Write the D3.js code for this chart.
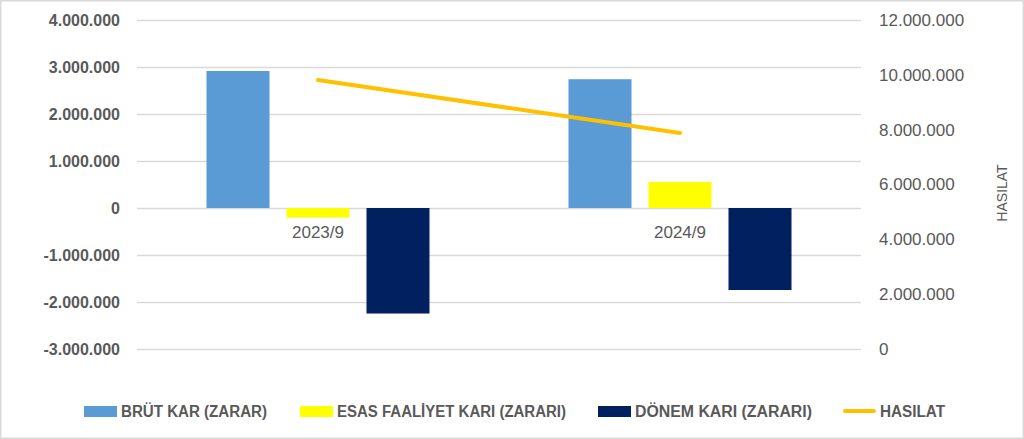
<!DOCTYPE html>
<html>
<head>
<meta charset="utf-8">
<script src="https://cdn.jsdelivr.net/npm/d3@7"></script>
<style>
  html, body { margin: 0; padding: 0; background: #fff; }
  text { font-family: "Liberation Sans", Arial, sans-serif; fill: #595959; }
</style>
</head>
<body>
<div id="chart"></div>
<script>
// data
const periods = ["2023/9", "2024/9"]
const brutKar = [2915000, 2740000]
const esasFaaliyet = [-205000, 553000]
const donemKari = [-2245000, -1745000]
const hasilat = [9810000, 7880000]

const barSeries = [
    { name: "BRÜT KAR (ZARAR)", values: brutKar, color: "#5b9bd5" },
    { name: "ESAS FAALİYET KARI (ZARARI)", values: esasFaaliyet, color: "#ffff00" },
    { name: "DÖNEM KARI (ZARARI)", values: donemKari, color: "#002060" },
]
const leftTicks = [-3000000, -2000000, -1000000, 0, 1000000, 2000000, 3000000, 4000000]
const rightTicks = [0, 2000000, 4000000, 6000000, 8000000, 10000000, 12000000]

function drawChart() {
    const width = 1024
    const height = 439
    const margin = { top: 20, bottom: 90, left: 137, right: 163 }
    const boundedWidth = width - margin.left - margin.right
    const boundedHeight = height - margin.top - margin.bottom

    const fmt = v => d3.format(",")(v).replace(/,/g, ".").replace("−", "-")

    const svg = d3.select("#chart").append("svg")
        .attr("width", width)
        .attr("height", height)

    svg.append("rect")
        .attr("x", 0.75).attr("y", 0.75)
        .attr("width", width - 1.5).attr("height", height - 1.5)
        .attr("fill", "#fff")
        .attr("stroke", "#d9d9d9")
        .attr("stroke-width", 1.5)

    const chart = svg.append("g")
        .attr("transform", `translate(${margin.left},${margin.top})`)

    // scales
    const yLeft = d3.scaleLinear()
        .domain([-3000000, 4000000])
        .range([boundedHeight, 0])
    const yRight = d3.scaleLinear()
        .domain([0, 12000000])
        .range([boundedHeight, 0])
    const x0 = d3.scaleBand()
        .domain(periods)
        .range([0, boundedWidth])
    const groupWidth = 223
    const x1 = d3.scaleBand()
        .domain(barSeries.map(s => s.name))
        .range([-groupWidth / 2, groupWidth / 2])
        .paddingInner(0.2125)

    // gridlines
    chart.append("g")
        .selectAll("line")
        .data(leftTicks)
        .join("line")
        .attr("x1", 0)
        .attr("x2", boundedWidth)
        .attr("y1", d => Math.round(yLeft(d)) + 0.5)
        .attr("y2", d => Math.round(yLeft(d)) + 0.5)
        .attr("stroke", "#d9d9d9")
        .attr("stroke-width", 1.5)

    // left axis
    const leftAxis = d3.axisLeft(yLeft)
        .tickValues(leftTicks)
        .tickFormat(fmt)
        .tickSize(0)
        .tickPadding(17)
    const leftAxisG = chart.append("g").call(leftAxis)
    leftAxisG.select(".domain").remove()
    leftAxisG.selectAll("text")
        .style("font-size", "16px")
        .style("font-weight", "bold")
        .attr("fill", "#595959")

    // right axis
    const rightAxis = d3.axisRight(yRight)
        .tickValues(rightTicks)
        .tickFormat(fmt)
        .tickSize(0)
        .tickPadding(18)
    const rightAxisG = chart.append("g")
        .attr("transform", `translate(${boundedWidth},0)`)
        .call(rightAxis)
    rightAxisG.select(".domain").remove()
    rightAxisG.selectAll("text")
        .style("font-size", "17px")
        .attr("fill", "#595959")

    // right axis title
    svg.append("text")
        .attr("transform", `translate(1007, 193) rotate(-90)`)
        .attr("text-anchor", "middle")
        .style("font-size", "14px")
        .text("HASILAT")

    // bars
    barSeries.forEach(s => {
        chart.append("g")
            .selectAll("rect")
            .data(periods.map((p, i) => ({ period: p, value: s.values[i] })))
            .join("rect")
            .attr("x", d => x0(d.period) + x0.bandwidth() / 2 + x1(s.name))
            .attr("width", x1.bandwidth())
            .attr("y", d => yLeft(Math.max(0, d.value)))
            .attr("height", d => Math.abs(yLeft(d.value) - yLeft(0)))
            .attr("fill", s.color)
    })

    // category labels
    chart.append("g")
        .selectAll("text")
        .data(periods)
        .join("text")
        .attr("x", d => x0(d) + x0.bandwidth() / 2)
        .attr("y", yLeft(0) + 30)
        .attr("text-anchor", "middle")
        .style("font-size", "17px")
        .text(d => d)

    // line
    const line = d3.line()
        .x((d, i) => x0(periods[i]) + x0.bandwidth() / 2)
        .y(d => yRight(d))
    chart.append("path")
        .datum(hasilat)
        .attr("d", line)
        .attr("fill", "none")
        .attr("stroke", "#ffc000")
        .attr("stroke-width", 4)
        .attr("stroke-linecap", "round")

    // legend
    const legendItems = [
        { name: barSeries[0].name, color: barSeries[0].color, type: "rect", x: 84, textLen: 146 },
        { name: barSeries[1].name, color: barSeries[1].color, type: "rect", x: 300, textLen: 229 },
        { name: barSeries[2].name, color: barSeries[2].color, type: "rect", x: 598, textLen: 177 },
        { name: "HASILAT", color: "#ffc000", type: "line", x: 843, textLen: 65 },
    ]
    const legend = svg.append("g")
    legendItems.forEach(item => {
        if (item.type === "rect") {
            legend.append("rect")
                .attr("x", item.x).attr("y", 406)
                .attr("width", 33).attr("height", 11)
                .attr("fill", item.color)
        } else {
            legend.append("line")
                .attr("x1", item.x + 2).attr("x2", item.x + 31)
                .attr("y1", 411).attr("y2", 411)
                .attr("stroke", item.color)
                .attr("stroke-width", 4)
                .attr("stroke-linecap", "round")
        }
        legend.append("text")
            .attr("x", item.x + 37)
            .attr("y", 417)
            .attr("textLength", item.textLen)
            .attr("lengthAdjust", "spacingAndGlyphs")
            .style("font-size", "16px")
            .style("font-weight", "bold")
            .text(item.name)
    })
}

drawChart()
</script>
</body>
</html>
